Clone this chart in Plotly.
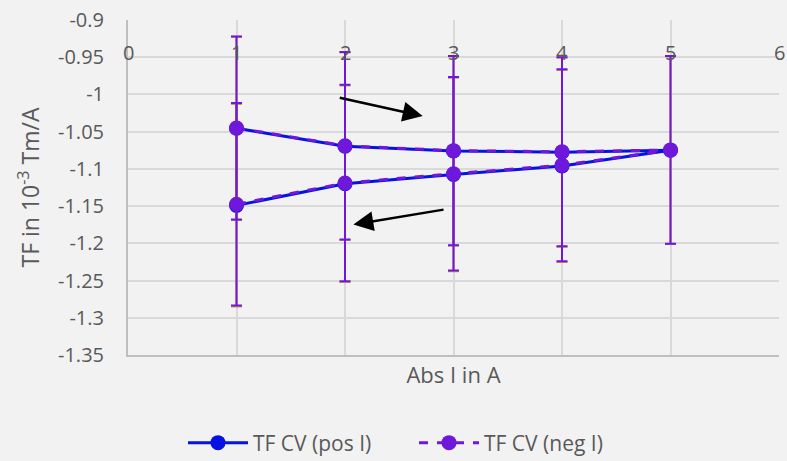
import plotly.graph_objects as go

# Current magnitude sweep: up from 1 A to 5 A, then back down to 1 A
abs_current = [1, 2, 3, 4, 5, 4, 3, 2, 1]

tf_pos = [-1.0455, -1.0695, -1.0760, -1.0775, -1.0750, -1.0960, -1.1075, -1.1200, -1.1490]
tf_neg = [-1.0450, -1.0690, -1.0755, -1.0770, -1.0745, -1.0950, -1.1065, -1.1190, -1.1475]
tf_err = [0.123, 0.126, 0.127, 0.127, 0.126, 0.129, 0.130, 0.132, 0.136]

y_tickvals = [-0.9, -0.95, -1.0, -1.05, -1.1, -1.15, -1.2, -1.25, -1.3, -1.35]
y_ticktext = ["-0.9", "-0.95", "-1", "-1.05", "-1.1", "-1.15", "-1.2", "-1.25", "-1.3", "-1.35"]
x_ticks = [0, 1, 2, 3, 4, 5, 6]
x_label_level = -0.943  # horizontal axis labels sit just above the -0.95 gridline

# Sweep direction arrows (tail -> head) in data coordinates
arrow_up = dict(tail=(1.938, -1.0039), head=(2.716, -1.029))
arrow_down = dict(tail=(2.922, -1.1544), head=(2.077, -1.1747))

BLUE = "#0512E3"
PURPLE = "#7017DC"
TEXT = "#595959"
FONT = "Open Sans"

fig = go.Figure()

fig.add_trace(go.Scatter(
    x=abs_current, y=tf_pos, name="TF CV (pos I)", mode="lines+markers",
    line=dict(color=BLUE, width=3),
    marker=dict(color=BLUE, size=15),
    error_y=dict(type="data", array=tf_err, color="#C8A040", thickness=2, width=5.5),
))
fig.add_trace(go.Scatter(
    x=abs_current, y=tf_neg, name="TF CV (neg I)", mode="lines+markers",
    line=dict(color=PURPLE, width=3, dash="dash"),
    marker=dict(color=PURPLE, size=15),
    error_y=dict(type="data", array=tf_err, color=PURPLE, thickness=2, width=5.5),
))

annotations = [
    dict(x=v, y=x_label_level, xref="x", yref="y", text=str(v), showarrow=False,
         font=dict(family=FONT, size=20, color=TEXT), xanchor="center", yanchor="middle")
    for v in x_ticks
]
for arr in (arrow_up, arrow_down):
    annotations.append(dict(
        x=arr["head"][0], y=arr["head"][1], ax=arr["tail"][0], ay=arr["tail"][1],
        xref="x", yref="y", axref="x", ayref="y", text="", showarrow=True,
        arrowhead=2, arrowsize=1.6, arrowwidth=2.5, arrowcolor="#000000",
    ))

fig.update_layout(
    width=787, height=461,
    margin=dict(l=128, r=8, t=20, b=106, autoexpand=False),
    paper_bgcolor="#F2F2F2", plot_bgcolor="#F2F2F2",
    font=dict(family=FONT, size=20, color=TEXT),
    showlegend=True,
    legend=dict(orientation="h", x=414 / 787, xref="container", xanchor="center",
                y=18 / 461, yref="container", yanchor="middle",
                font=dict(family=FONT, size=21, color=TEXT), bgcolor="rgba(0,0,0,0)",
                itemwidth=60, entrywidth=156),
    annotations=annotations,
    xaxis=dict(
        range=[0, 6], tickvals=x_ticks, showticklabels=False, ticks="",
        showgrid=True, gridcolor="#D9D9D9", gridwidth=2, zeroline=False,
        showline=True, linecolor="#BFBFBF", linewidth=2,
        title=dict(text="Abs I in A", font=dict(family=FONT, size=22, color=TEXT), standoff=12),
        automargin=False,
    ),
    yaxis=dict(
        range=[-1.35, -0.9], tickvals=y_tickvals, ticktext=y_ticktext, ticks="",
        ticklabelstandoff=18,
        showgrid=True, gridcolor="#D9D9D9", gridwidth=2, zeroline=False,
        showline=True, linecolor="#BFBFBF", linewidth=2,
        title=dict(text="TF in 10<sup>-3</sup> Tm/A", font=dict(family=FONT, size=23, color=TEXT), standoff=12),
        automargin=False,
    ),
)

fig.write_html("out.html")
